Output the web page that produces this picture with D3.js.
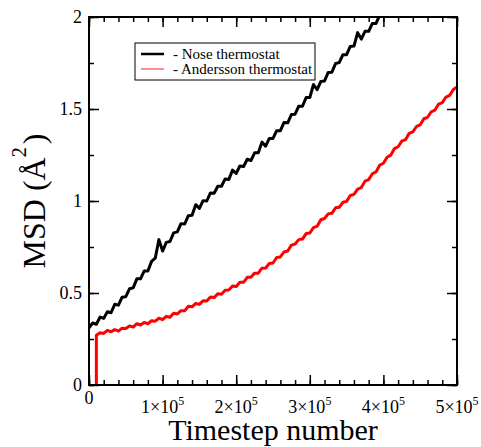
<!DOCTYPE html>
<head>
<style>
body { margin: 0; background: #fff; }
* { font-family: "Liberation Serif", "Times New Roman", serif; }
</style>
</head>
<body>
<svg width="481" height="447"></svg>
<script src="https://d3js.org/d3.v7.min.js"></script>
<script>

var noseStart = 0, noseStep = 5000;
var noseMsd = [0.310,0.337,0.330,0.369,0.362,0.398,0.393,0.439,0.434,0.477,
  0.480,0.523,0.528,0.577,0.577,0.620,0.620,0.672,0.689,0.790,
  0.728,0.775,0.780,0.827,0.832,0.877,0.875,0.920,0.922,0.980,
  0.960,1.002,1.000,1.044,1.042,1.080,1.080,1.120,1.117,1.168,
  1.150,1.190,1.187,1.227,1.220,1.262,1.262,1.320,1.298,1.340,
  1.340,1.382,1.382,1.427,1.425,1.470,1.472,1.515,1.515,1.562,
  1.562,1.633,1.605,1.650,1.652,1.699,1.700,1.747,1.752,1.795,
  1.795,1.840,1.842,1.915,1.880,1.922,1.922,1.965,1.965,2.010,2.020];

var andStart = 10000, andStep = 5000;
var andMsd = [0.270,0.284,0.280,0.297,0.289,0.301,0.293,0.309,0.307,0.321,
  0.315,0.333,0.326,0.340,0.333,0.349,0.347,0.363,0.355,0.373,
  0.368,0.390,0.386,0.404,0.403,0.428,0.425,0.443,0.438,0.458,
  0.456,0.478,0.475,0.496,0.493,0.515,0.516,0.538,0.535,0.558,
  0.558,0.585,0.586,0.608,0.608,0.635,0.636,0.660,0.663,0.693,
  0.696,0.723,0.728,0.760,0.766,0.790,0.793,0.823,0.826,0.855,
  0.863,0.898,0.905,0.930,0.933,0.963,0.966,0.993,0.998,1.030,
  1.036,1.065,1.073,1.108,1.116,1.148,1.158,1.195,1.205,1.238,
  1.249,1.285,1.295,1.325,1.333,1.368,1.376,1.405,1.414,1.447,
  1.455,1.485,1.494,1.527,1.535,1.565,1.574,1.606,1.620];

var xTicks = [0, 100000, 200000, 300000, 400000, 500000];
var xTickLabels = ["0", "1", "2", "3", "4", "5"];
var yTicks = [0, 0.5, 1, 1.5, 2];
var yTickLabels = ["0", "0.5", "1", "1.5", "2"];
var seriesNames = ["- Nose thermostat", "- Andersson thermostat"];
var seriesColors = ["#000000", "#ff0000"];

var svg = d3.select("svg");
var pl = 89, pt = 17, w = 368, h = 368;

var x = d3.scaleLinear().domain([0, 500000]).range([pl, pl + w]);
var y = d3.scaleLinear().domain([0, 2]).range([pt + h, pt]);

var nose = noseMsd.map(function(v, i) { return [noseStart + i * noseStep, v]; });
var anders = [[andStart, 0]].concat(andMsd.map(function(v, i) { return [andStart + i * andStep, v]; }));

var line = d3.line()
    .x(function(d) { return x(d[0]); })
    .y(function(d) { return y(d[1]); });

svg.append("clipPath").attr("id", "plot")
  .append("rect").attr("x", pl).attr("y", pt).attr("width", w).attr("height", h);

svg.append("path").datum(anders)
    .attr("clip-path", "url(#plot)")
    .attr("fill", "none").attr("stroke", seriesColors[1]).attr("stroke-width", 3)
    .attr("stroke-linejoin", "round")
    .attr("d", line);

svg.append("path").datum(nose)
    .attr("clip-path", "url(#plot)")
    .attr("fill", "none").attr("stroke", seriesColors[0]).attr("stroke-width", 3)
    .attr("stroke-linejoin", "round")
    .attr("d", line);

// ticks on all four sides, pointing in
var xMinor = d3.range(0, 500001, 20000);
var yMinor = d3.range(0, 2.001, 0.25);

function ticks(axis, scale, vals, size, tr) {
  svg.append("g").attr("transform", tr)
    .call(axis(scale).tickValues(vals).tickSize(-size).tickSizeOuter(0).tickFormat(""))
    .call(function(g) { g.select(".domain").remove(); g.selectAll("line").attr("stroke-width", 1.5); });
}
ticks(d3.axisBottom, x, xMinor, 5, "translate(0," + (pt + h) + ")");
ticks(d3.axisBottom, x, xTicks, 10, "translate(0," + (pt + h) + ")");
ticks(d3.axisTop, x, xMinor, 5, "translate(0," + pt + ")");
ticks(d3.axisTop, x, xTicks, 10, "translate(0," + pt + ")");
ticks(d3.axisLeft, y, yMinor, 5, "translate(" + pl + ",0)");
ticks(d3.axisLeft, y, yTicks, 10, "translate(" + pl + ",0)");
ticks(d3.axisRight, y, yMinor, 5, "translate(" + (pl + w) + ",0)");
ticks(d3.axisRight, y, yTicks, 10, "translate(" + (pl + w) + ",0)");

svg.append("rect").attr("x", pl).attr("y", pt).attr("width", w).attr("height", h)
    .attr("fill", "none").attr("stroke", "#000").attr("stroke-width", 2);

// tick labels
var xl = svg.append("g").attr("font-size", 18).attr("text-anchor", "middle");
xTicks.forEach(function(v, i) {
  var t = xl.append("text").attr("x", x(v));
  if (v === 0) {
    t.attr("y", pt + h + 19).text("0");
  } else {
    t.attr("y", pt + h + 28).text(xTickLabels[i] + "\u00d710");
    t.append("tspan").attr("dy", -8).attr("font-size", 12).text("5");
  }
});

svg.append("g").attr("font-size", 18).attr("text-anchor", "end")
  .selectAll("text").data(yTicks).enter().append("text")
    .attr("x", pl - 7)
    .attr("y", function(d) { return y(d) + 6; })
    .text(function(d, i) { return yTickLabels[i]; });

// axis titles
svg.append("text").attr("x", pl + w / 2).attr("y", 440)
    .attr("text-anchor", "middle").attr("font-size", 30).text("Timestep number");

var yt = svg.append("text").attr("transform", "translate(45," + (pt + h / 2) + ") rotate(-90)")
    .attr("text-anchor", "middle").attr("font-size", 32);
yt.append("tspan").text("MSD (\u00c5");
yt.append("tspan").attr("dy", -19).attr("font-size", 20).text("2");
yt.append("tspan").attr("dy", 19).attr("dx", 3).text(")");

// legend
var lg = svg.append("g");
lg.append("rect").attr("x", 135).attr("y", 43).attr("width", 180).attr("height", 37)
    .attr("fill", "#fff").attr("stroke", "#000").attr("stroke-width", 1);
seriesNames.forEach(function(n, i) {
  lg.append("line").attr("x1", 141).attr("x2", 164)
      .attr("y1", 54 + i * 15).attr("y2", 54 + i * 15)
      .attr("stroke", seriesColors[i]).attr("stroke-width", i ? 1.2 : 2.5)
      .attr("stroke-opacity", i ? 0.75 : 1);
  lg.append("text").attr("x", 173).attr("y", 59 + i * 15).attr("font-size", 15).text(n);
});

</script>
</body>
